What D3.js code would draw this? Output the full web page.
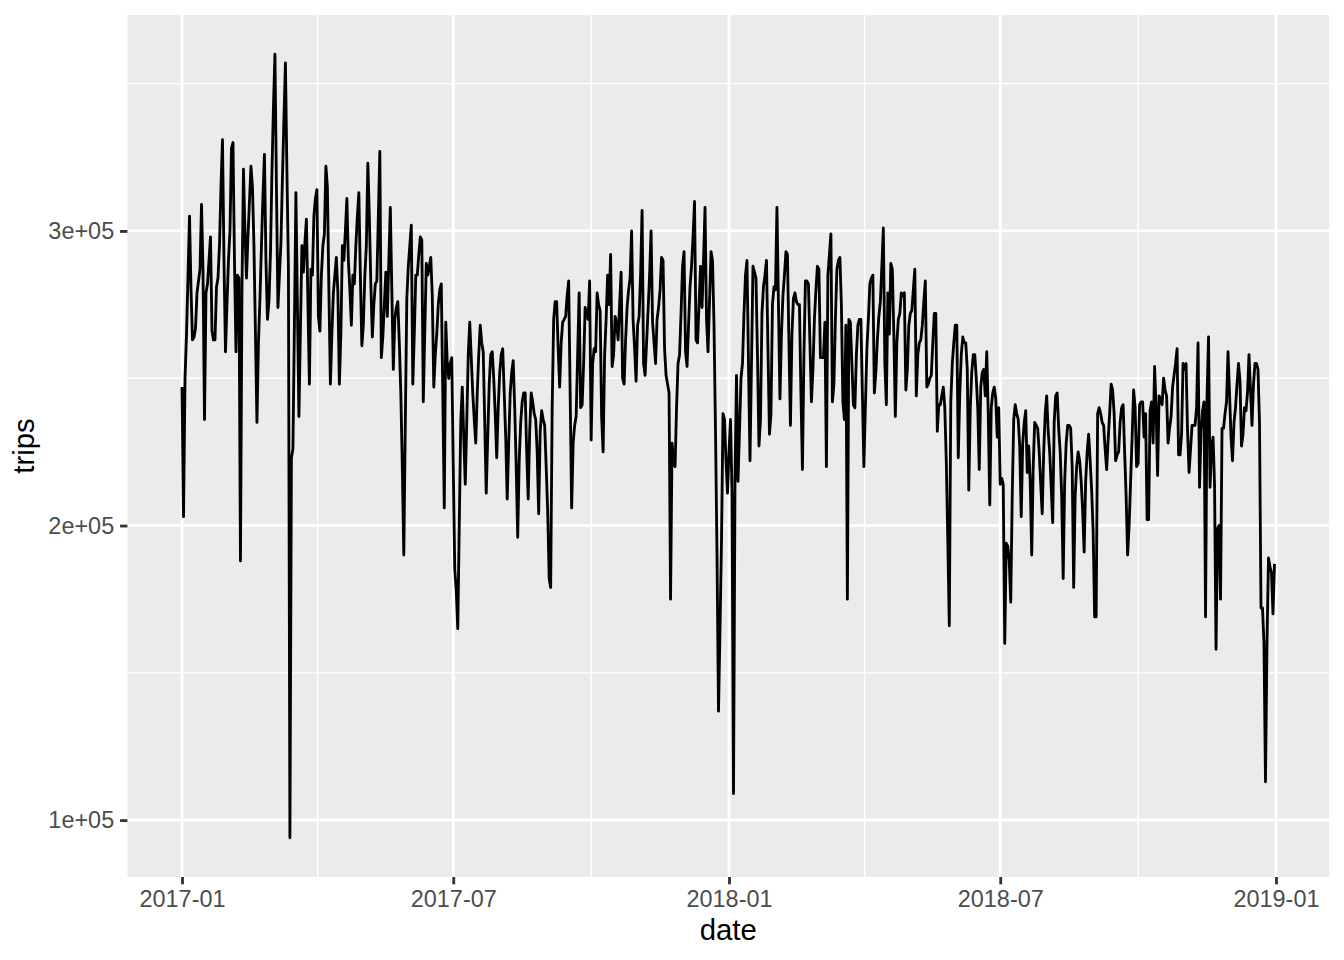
<!DOCTYPE html>
<html><head><meta charset="utf-8">
<script src="https://cdn.jsdelivr.net/npm/d3@7"></script>
<style>
body{margin:0;background:#fff}
svg{display:block}
text{font-family:"Liberation Sans",Arial,Helvetica,sans-serif}
</style>
</head><body>
<svg id="chart" width="1344" height="960"></svg>
<script>
// Daily trips (values in thousands of trips)
const startDate = "2017-01-01";
const trips2017K = [
247,203,250,265,285,305,280,
263,264,267,279,283,287,309,
287,236,279,282,290,298,266,
263,263,281,284,295,315,331,
290,259,275,290,300,328,330,
290,259,285,284,188,280,321,
300,284,298,310,322,315,295,
265,235,262,277,295,312,326,
290,270,276,292,320,342,360,
315,274,285,296,318,338,357,
320,288,94,223,226,268,313,
275,237,266,295,286,296,304,
276,248,287,285,305,311,314,
271,266,285,295,299,322,315,
280,248,265,279,285,291,279,
248,265,295,290,300,311,290,
280,268,285,282,295,305,313,
285,261,268,285,295,323,305,
282,264,275,282,283,305,327,
257,264,275,286,271,290,308,
280,253,270,274,276,262,245,
220,190,235,277,288,295,302,
248,265,285,285,292,298,297,
242,266,289,285,288,291,278,
247,258,265,275,280,282,245,
206,269,255,250,255,257,220,
185,178,165,200,235,247,230,
214,235,258,269,257,245,236,
228,245,258,268,262,259,235,
211,230,248,258,259,250,238,
223,240,252,258,260,245,230,
209,228,245,252,256,240,220,
196,222,235,242,245,245,225,
209,232,245,242,238,236,225,
204,232,239,236,234,220,205,
182,179,240,270,276,276,260,
247,262,269,270,271,278,283,
245,206,228,234,237,258,279,
240,241,255,274,272,270,283,
229,255,260,259,279,275,273,
237,225,258,270,285,275,292,
254,258,271,269,263,275,286,
250,248,263,274,280,284,300,
270,260,249,268,271,285,307,
255,251,262,273,285,300,269,
262,255,270,274,280,291,290,
260,251,248,245,175,228,222,
220,240,255,258,272,288,293,
259,254,268,281,288,298,310,
263,262,275,288,274,290,308,
270,259,276,293,290,268,232,
190,137,165,195,238,236,222,
211];
const trips2018K = [
225,236,212,109,215,251,
215,232,250,255,272,285,290,
255,222,255,288,286,284,258,
227,236,272,281,285,290,260,
231,238,275,281,280,308,275,
243,265,278,285,293,292,262,
234,265,277,279,276,275,275,
245,219,258,283,283,282,262,
242,253,270,280,288,287,257,
257,257,269,220,285,292,299,
242,248,270,287,290,291,275,
242,236,268,175,270,269,255,
241,240,258,268,270,270,245,
220,240,260,270,282,284,285,
245,252,263,271,276,288,301,
255,241,279,265,289,287,265,
237,262,270,272,279,278,279,
246,253,268,272,273,280,287,
244,258,262,263,268,276,283,
247,248,250,251,262,272,272,
232,241,241,244,247,240,222,
195,166,242,255,262,268,268,
223,245,258,264,262,262,253,
212,240,252,258,258,250,240,
219,247,252,253,244,259,238,
207,240,245,247,243,230,240,
214,216,214,160,194,193,188,
174,210,236,241,238,236,227,
203,228,235,239,218,227,215,
190,220,235,234,233,225,214,
204,225,238,244,232,225,213,
201,235,244,245,233,225,210,
182,215,228,234,234,233,220,
179,210,220,225,222,215,205,
191,215,225,231,222,212,198,
169,169,238,240,238,235,234,
226,219,229,238,248,246,238,
222,224,225,235,240,241,225,
210,190,200,215,230,246,240,
220,221,241,242,242,230,238,
202,202,239,242,228,254,240,
217,244,243,241,250,246,244,
228,233,237,247,251,255,260,
224,224,231,255,253,255,232,
218,226,234,234,234,240,262,
213,232,239,242,169,244,264,
213,227,230,214,158,199,200,
175,233,233,238,242,259,245,
230,222,235,240,248,255,249,
227,231,240,239,245,258,246,
234,248,255,255,253,235,172,
172,160,113,160,189,186,184,
170,187];

const yTickValues = [100000, 200000, 300000];
const yTickLabels = ["1e+05", "2e+05", "3e+05"];
const yMinorValues = [150000, 250000, 350000];
const xTickDates = ["2017-01-01", "2017-07-01", "2018-01-01", "2018-07-01", "2019-01-01"];
const xTickLabels = ["2017-01", "2017-07", "2018-01", "2018-07", "2019-01"];
const xTitle = "date";
const yTitle = "trips";

// build table
const parse = d3.utcParse("%Y-%m-%d");
const t0 = parse(startDate);
const tripsK = trips2017K.concat(trips2018K);
const data = tripsK.map((v, i) => ({ date: d3.utcDay.offset(t0, i), trips: v * 1000 }));

// layout
const panel = { left: 127.4, right: 1329.1, top: 15, bottom: 877 };
const px = 192 / 72;             // px per pt
const gridMajorW = 2.84, gridMinorW = 1.42, lineW = 2.84;

const xExt = d3.extent(data, d => d.date);
const xSpan = xExt[1] - xExt[0];
const x = d3.scaleUtc()
  .domain([new Date(+xExt[0] - 0.05 * xSpan), new Date(+xExt[1] + 0.05 * xSpan)])
  .range([panel.left, panel.right]);
const yExt = d3.extent(data, d => d.trips);
const ySpan = yExt[1] - yExt[0];
const y = d3.scaleLinear()
  .domain([yExt[0] - 0.05 * ySpan, yExt[1] + 0.05 * ySpan])
  .range([panel.bottom, panel.top]);

const svg = d3.select("#chart");

svg.append("rect")
  .attr("x", panel.left).attr("y", panel.top)
  .attr("width", panel.right - panel.left).attr("height", panel.bottom - panel.top)
  .attr("fill", "#EBEBEB");

const xMajor = xTickDates.map(parse);
const xMinor = d3.pairs(xMajor).map(([a, b]) => new Date((+a + +b) / 2));

const grid = svg.append("g");
grid.selectAll(".ymin").data(yMinorValues).join("line")
  .attr("x1", panel.left).attr("x2", panel.right)
  .attr("y1", d => y(d)).attr("y2", d => y(d))
  .attr("stroke", "#fff").attr("stroke-width", gridMinorW);
grid.selectAll(".xmin").data(xMinor).join("line")
  .attr("y1", panel.top).attr("y2", panel.bottom)
  .attr("x1", d => x(d)).attr("x2", d => x(d))
  .attr("stroke", "#fff").attr("stroke-width", gridMinorW);
grid.selectAll(".ymaj").data(yTickValues).join("line")
  .attr("x1", panel.left).attr("x2", panel.right)
  .attr("y1", d => y(d)).attr("y2", d => y(d))
  .attr("stroke", "#fff").attr("stroke-width", gridMajorW);
grid.selectAll(".xmaj").data(xMajor).join("line")
  .attr("y1", panel.top).attr("y2", panel.bottom)
  .attr("x1", d => x(d)).attr("x2", d => x(d))
  .attr("stroke", "#fff").attr("stroke-width", gridMajorW);

// data line
svg.append("path")
  .datum(data)
  .attr("fill", "none")
  .attr("stroke", "#000")
  .attr("stroke-width", lineW)
  .attr("stroke-linejoin", "round")
  .attr("d", d3.line().x(d => x(d.date)).y(d => y(d.trips)));

// axes
const tickLen = 2.75 * px, tickPad = 2.2 * px;
const xAxis = d3.axisBottom(x).tickValues(xMajor)
  .tickFormat((d, i) => xTickLabels[i]).tickSize(tickLen).tickPadding(tickPad);
const yAxis = d3.axisLeft(y).tickValues(yTickValues)
  .tickFormat((d, i) => yTickLabels[i]).tickSize(tickLen).tickPadding(tickPad);

const gx = svg.append("g").attr("transform", `translate(0,${panel.bottom})`).call(xAxis);
const gy = svg.append("g").attr("transform", `translate(${panel.left},0)`).call(yAxis);
[gx, gy].forEach(g => {
  g.select(".domain").remove();
  g.selectAll(".tick line").attr("stroke", "#333333").attr("stroke-width", 2.84);
  g.selectAll(".tick text").attr("fill", "#4D4D4D")
    .style("font-size", (8.8 * px) + "px")
    .style("font-family", '"Liberation Sans", Arial, Helvetica, sans-serif');
});

// titles
svg.append("text")
  .attr("x", (panel.left + panel.right) / 2).attr("y", 940)
  .attr("text-anchor", "middle").attr("fill", "#000")
  .style("font-size", (11 * px) + "px").text(xTitle);
svg.append("text")
  .attr("transform", `translate(34,${(panel.top + panel.bottom) / 2}) rotate(-90)`)
  .attr("text-anchor", "middle").attr("fill", "#000")
  .style("font-size", (11 * px) + "px").text(yTitle);
</script>
</body></html>
